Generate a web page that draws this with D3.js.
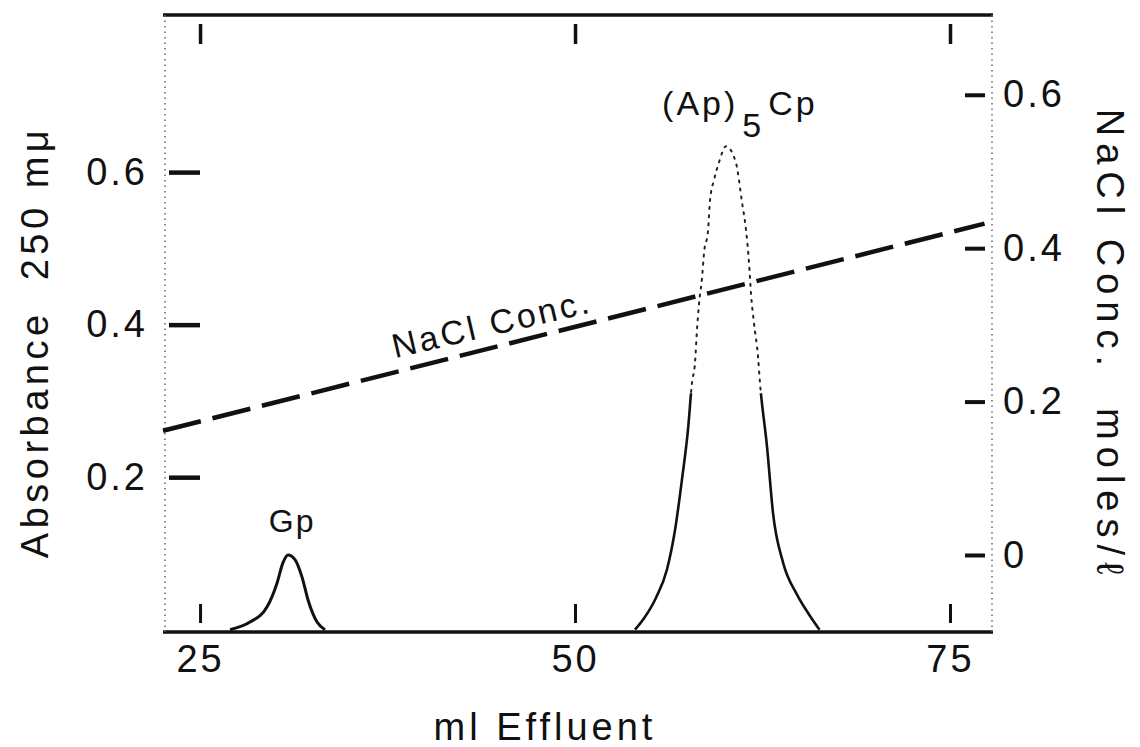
<!DOCTYPE html>
<html>
<head>
<meta charset="utf-8">
<script src="https://cdn.jsdelivr.net/npm/d3@7"></script>
<style>
  html, body { margin: 0; padding: 0; background: #fff; }
  svg { display: block; }
  text { font-family: "Liberation Sans", Arial, sans-serif; fill: #111; white-space: pre; }
</style>
</head>
<body>
<svg id="chart" width="1140" height="747"></svg>
<script>
// Elution profile: absorbance at 250 mμ versus effluent volume, with NaCl gradient
const xTicks = [25, 50, 75];
const absTicks = [0.2, 0.4, 0.6];
const naclTicks = [0, 0.2, 0.4, 0.6];

// Gp peak
const gpVolume     = [27.0, 28.33, 29.47, 30.13, 30.53, 30.87, 31.33, 31.8, 32.2, 32.8, 33.33];
const gpAbsorbance = [0.0, 0.010, 0.030, 0.061, 0.088, 0.098, 0.092, 0.069, 0.039, 0.010, 0.0];

// (Ap)5Cp peak
const apVolume     = [54.0, 54.6, 55.4, 56.13, 56.67, 57.13, 57.53, 57.8, 58.0, 58.13, 58.27, 58.47, 58.6, 58.87, 59.0, 59.27, 59.6, 60.07,
                      60.73, 61.13, 61.4, 61.6, 61.73, 61.93, 62.2, 62.33, 62.8, 63.2, 63.87, 64.8, 65.6, 66.3];
const apAbsorbance = [0.0, 0.015, 0.042, 0.079, 0.131, 0.197, 0.262, 0.324, 0.350, 0.393, 0.428, 0.462, 0.494, 0.524, 0.563, 0.590, 0.613, 0.634,
                      0.612, 0.561, 0.524, 0.481, 0.441, 0.402, 0.358, 0.324, 0.240, 0.153, 0.088, 0.046, 0.020, 0.0];

// Linear salt gradient (moles/ℓ)
const naclVolume = [22.53, 77.3];
const naclConc   = [0.162, 0.432];

const svg = d3.select("#chart");

const x = d3.scaleLinear().domain([22.53, 77.8]).range([163, 992]);
const yAbs = d3.scaleLinear().domain([-0.003, 0.806]).range([632, 15]);
const yNacl = d3.scaleLinear().domain([-0.1004, 0.704]).range([632, 15]);

const frameLeft = x.range()[0], frameRight = x.range()[1];
const frameTop = yAbs.range()[1], frameBottom = yAbs.range()[0];

// frame: heavy top and bottom rules, faint dotted sides
svg.append("line").attr("x1", frameLeft).attr("x2", frameRight + 1).attr("y1", frameTop).attr("y2", frameTop)
  .attr("stroke", "#111").attr("stroke-width", 3.5);
svg.append("line").attr("x1", frameLeft).attr("x2", frameRight + 1).attr("y1", frameBottom).attr("y2", frameBottom)
  .attr("stroke", "#111").attr("stroke-width", 3.5);
[frameLeft + 2, frameRight].forEach(px => {
  svg.append("line").attr("x1", px).attr("x2", px).attr("y1", frameTop).attr("y2", frameBottom)
    .attr("stroke", "#666").attr("stroke-width", 1.5).attr("stroke-dasharray", "1.5 4");
});

function styleAxis(g, width) {
  g.select(".domain").remove();
  g.selectAll(".tick line").attr("stroke", "#111").attr("stroke-width", width);
  g.selectAll(".tick text").attr("fill", "#111")
    .style("font-family", "'Liberation Sans', Arial, sans-serif")
    .style("font-size", "38px").style("letter-spacing", "3px");
}

// left absorbance axis
svg.append("g").attr("transform", "translate(200,0)")
  .call(d3.axisLeft(yAbs).tickValues(absTicks).tickSize(31).tickPadding(21).tickFormat(d3.format(".1f")))
  .call(g => styleAxis(g, 4.5));

// right NaCl axis
svg.append("g").attr("transform", "translate(965,0)")
  .call(d3.axisRight(yNacl).tickValues(naclTicks).tickSize(20).tickPadding(18)
    .tickFormat(d => d === 0 ? "0" : d3.format(".1f")(d)))
  .call(g => styleAxis(g, 4));

// bottom volume axis (ticks rise inside the frame)
svg.append("g").attr("transform", "translate(0,604)")
  .call(d3.axisBottom(x).tickValues(xTicks).tickSize(19).tickPadding(22))
  .call(g => styleAxis(g, 3));

// top volume ticks, unlabeled
svg.append("g").attr("transform", "translate(0,44)")
  .call(d3.axisTop(x).tickValues(xTicks).tickSize(20).tickFormat(() => ""))
  .call(g => styleAxis(g, 3.5));

// NaCl gradient, dashed
const naclLine = d3.line().x(d => x(d[0])).y(d => yNacl(d[1]));
svg.append("path")
  .datum(d3.zip(naclVolume, naclConc))
  .attr("d", naclLine)
  .attr("fill", "none").attr("stroke", "#111").attr("stroke-width", 4.5)
  .attr("stroke-dasharray", "39 12");

// absorbance peaks
const absLine = d3.line().curve(d3.curveMonotoneX)
  .x(d => x(d[0])).y(d => yAbs(d[1]));

svg.append("path")
  .datum(d3.zip(gpVolume, gpAbsorbance))
  .attr("d", absLine)
  .attr("fill", "none").attr("stroke", "#111").attr("stroke-width", 3);

// the tall peak: solid near the base, faint dotted near the crest
const split = yAbs(0.31);
const defs = svg.append("defs");
defs.append("clipPath").attr("id", "lowerPart").append("rect")
  .attr("x", frameLeft).attr("y", split).attr("width", frameRight - frameLeft).attr("height", frameBottom - split);
defs.append("clipPath").attr("id", "upperPart").append("rect")
  .attr("x", frameLeft).attr("y", frameTop).attr("width", frameRight - frameLeft).attr("height", split - frameTop);

const apData = d3.zip(apVolume, apAbsorbance);
svg.append("path").datum(apData).attr("d", absLine)
  .attr("clip-path", "url(#lowerPart)")
  .attr("fill", "none").attr("stroke", "#111").attr("stroke-width", 2.6);
svg.append("path").datum(apData).attr("d", absLine)
  .attr("clip-path", "url(#upperPart)")
  .attr("fill", "none").attr("stroke", "#222").attr("stroke-width", 2)
  .attr("stroke-dasharray", "2 6").attr("stroke-linecap", "round");

// peak labels
const gpPeak = d3.greatest(d3.zip(gpVolume, gpAbsorbance), d => d[1]);
svg.append("text")
  .attr("x", x(gpPeak[0]) + 4).attr("y", yAbs(gpPeak[1]) - 23)
  .attr("text-anchor", "middle")
  .style("font-size", "32px").style("letter-spacing", "2px")
  .text("Gp");

const apPeak = d3.greatest(apData, d => d[1]);
const apLabel = svg.append("text")
  .attr("x", x(apPeak[0]) - 64).attr("y", yAbs(apPeak[1]) - 31)
  .style("font-size", "34px").style("letter-spacing", "3px");
apLabel.append("tspan").text("(Ap)");
apLabel.append("tspan").attr("dy", 22).attr("dx", 4).text("5");
apLabel.append("tspan").attr("dy", -22).attr("dx", 4).text("Cp");

// gradient label, set along the dashed line
const labelVol = 38.0;
const p0 = [x(naclVolume[0]), yNacl(naclConc[0])];
const p1 = [x(naclVolume[1]), yNacl(naclConc[1])];
const angle = Math.atan2(p1[1] - p0[1], p1[0] - p0[0]) * 180 / Math.PI + 1;
const lx = x(labelVol);
const ly = p0[1] + (p1[1] - p0[1]) * (lx - p0[0]) / (p1[0] - p0[0]) - 14;
svg.append("text")
  .attr("transform", `translate(${lx},${ly}) rotate(${angle})`)
  .style("font-size", "34px").style("letter-spacing", "3px")
  .text("NaCl Conc.");

// axis titles
svg.append("text")
  .attr("transform", "translate(48,342) rotate(-90)")
  .attr("text-anchor", "middle")
  .style("font-size", "38px").style("letter-spacing", "4.5px")
  .text("Absorbance  250 mμ");

svg.append("text")
  .attr("transform", "translate(1097,345) rotate(90)")
  .attr("text-anchor", "middle")
  .style("font-size", "38px").style("letter-spacing", "7px")
  .text("NaCl Conc.  moles/ℓ");

svg.append("text")
  .attr("x", 545).attr("y", 740)
  .attr("text-anchor", "middle")
  .style("font-size", "38px").style("letter-spacing", "4px")
  .text("ml Effluent");
</script>
</body>
</html>
